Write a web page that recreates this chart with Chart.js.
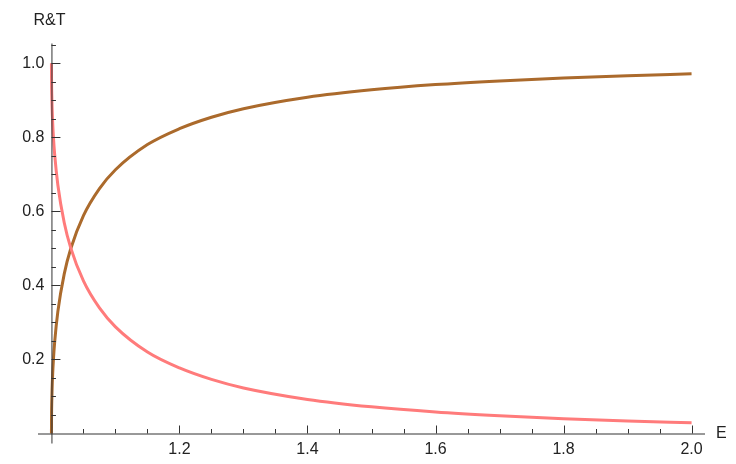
<!DOCTYPE html>
<html>
<head>
<meta charset="utf-8">
<script src="https://cdn.jsdelivr.net/npm/chart.js@4.4.1/dist/chart.umd.min.js"></script>
<style>
  html, body { margin: 0; padding: 0; background: #fff; }
  #wrap { width: 736px; height: 464px; }
</style>
</head>
<body>
<div id="wrap"><canvas id="rtChart" width="736" height="464"></canvas></div>
<script>
// energies and the two curves
const energies = [1, 1.0002, 1.0005, 1.001, 1.002, 1.003, 1.005, 1.01, 1.02, 1.03, 1.05, 1.075, 1.1, 1.15, 1.2, 1.25, 1.3, 1.4, 1.5, 1.6, 1.7, 1.8, 1.9, 2.0];
const reflection = [1.0, 0.945, 0.915, 0.881, 0.836, 0.803, 0.754, 0.671, 0.569, 0.502, 0.412, 0.339, 0.288, 0.220, 0.177, 0.146, 0.123, 0.092, 0.072, 0.058, 0.048, 0.040, 0.034, 0.029];
const transmission = [0.0, 0.055, 0.085, 0.119, 0.164, 0.197, 0.246, 0.329, 0.431, 0.498, 0.588, 0.661, 0.712, 0.780, 0.823, 0.854, 0.877, 0.908, 0.928, 0.942, 0.952, 0.960, 0.966, 0.971];

const xMajorTicks = [1.2, 1.4, 1.6, 1.8, 2.0];
const yMajorTicks = [0.2, 0.4, 0.6, 0.8, 1.0];
const xMinorTicks = [1.05, 1.1, 1.15, 1.25, 1.3, 1.35, 1.45, 1.5, 1.55, 1.65, 1.7, 1.75, 1.85, 1.9, 1.95];
const yMinorTicks = [0.05, 0.1, 0.15, 0.25, 0.3, 0.35, 0.45, 0.5, 0.55, 0.65, 0.7, 0.75, 0.85, 0.9, 0.95, 1.05];

const toPoints = ys => energies.map((e, i) => ({ x: e, y: ys[i] }));

// Mathematica style axes crossing at (1, 0)
const axesPlugin = {
    id: 'mmaAxes',
    afterDatasetsDraw(chart) {
        const ctx = chart.ctx;
        const xs = chart.scales.x, ys = chart.scales.y;
        const ox = xs.getPixelForValue(1), oy = ys.getPixelForValue(0);
        const a = chart.chartArea;
        ctx.save();
        ctx.strokeStyle = '#333';
        ctx.lineWidth = 1;
        ctx.beginPath();
        ctx.moveTo(a.left, oy + 0.5); ctx.lineTo(a.right, oy + 0.5);
        ctx.moveTo(ox + 0.5, a.top); ctx.lineTo(ox + 0.5, a.bottom);
        xMajorTicks.forEach(v => { const p = Math.round(xs.getPixelForValue(v)) + 0.5; ctx.moveTo(p, oy); ctx.lineTo(p, oy - 8); });
        xMinorTicks.forEach(v => { const p = Math.round(xs.getPixelForValue(v)) + 0.5; ctx.moveTo(p, oy); ctx.lineTo(p, oy - 4.5); });
        yMajorTicks.forEach(v => { const p = Math.round(ys.getPixelForValue(v)) + 0.5; ctx.moveTo(ox, p); ctx.lineTo(ox + 9, p); });
        yMinorTicks.forEach(v => { const p = Math.round(ys.getPixelForValue(v)) + 0.5; ctx.moveTo(ox, p); ctx.lineTo(ox + 4.5, p); });
        ctx.stroke();

        ctx.fillStyle = '#222';
        ctx.font = '16px "Liberation Sans", Arial, sans-serif';
        ctx.textAlign = 'center';
        ctx.textBaseline = 'middle';
        xMajorTicks.forEach(v => ctx.fillText(v.toFixed(1), xs.getPixelForValue(v), oy + 16));
        ctx.textAlign = 'right';
        yMajorTicks.forEach(v => ctx.fillText(v.toFixed(1), ox - 7, ys.getPixelForValue(v)));
        ctx.textAlign = 'center';
        ctx.fillText('R&T', ox - 2, 21);
        ctx.textAlign = 'left';
        ctx.fillText('E', a.right + 11, oy);
        ctx.restore();
    }
};

new Chart(document.getElementById('rtChart').getContext('2d'), {
    type: 'scatter',
    data: {
        datasets: [
            {
                label: 'R',
                data: toPoints(reflection),
                showLine: true,
                borderColor: '#ff7b7b',
                borderWidth: 3,
                pointRadius: 0,
                cubicInterpolationMode: 'monotone'
            },
            {
                label: 'T',
                data: toPoints(transmission),
                showLine: true,
                borderColor: '#ab6a2c',
                borderWidth: 3,
                pointRadius: 0,
                cubicInterpolationMode: 'monotone'
            }
        ]
    },
    options: {
        responsive: false,
        animation: false,
        layout: { padding: { left: 38, right: 31, top: 43.5, bottom: 20.5 } },
        plugins: { legend: { display: false }, tooltip: { enabled: false } },
        scales: {
            x: { type: 'linear', min: 0.979, max: 2.021, display: false },
            y: { type: 'linear', min: -0.027, max: 1.053, display: false }
        }
    },
    plugins: [axesPlugin]
});
</script>
</body>
</html>
